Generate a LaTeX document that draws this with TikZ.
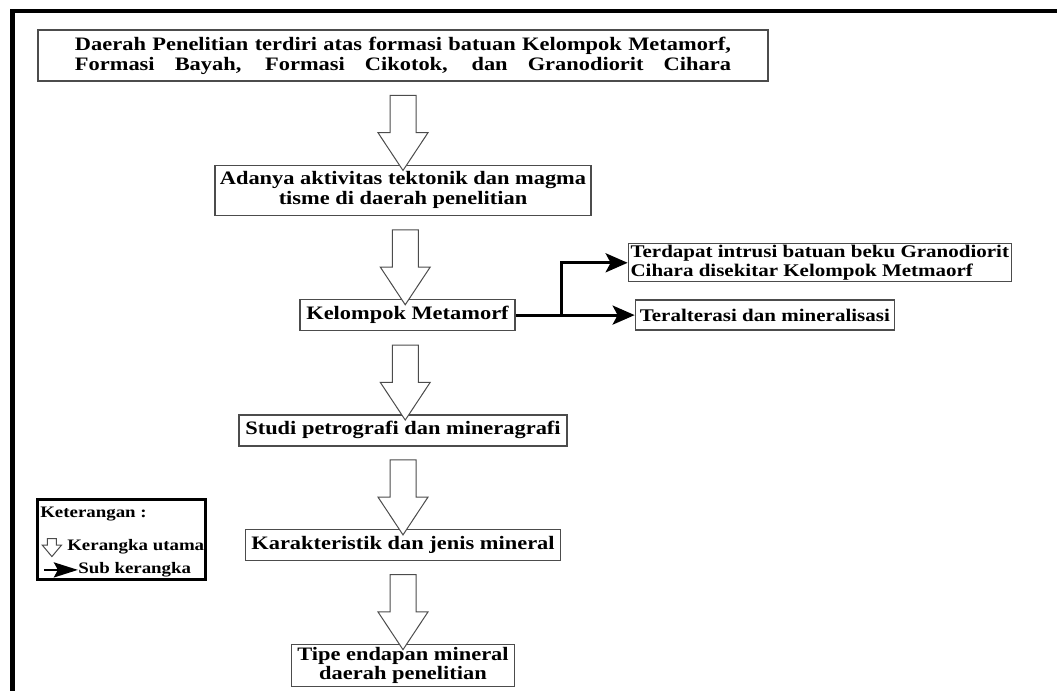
\documentclass[tikz,border=0pt]{standalone}
\usepackage{fontspec}
\setmainfont{Liberation Serif}[FakeStretch=1.18]
\usepackage{tikz}
\usetikzlibrary{shapes.arrows, arrows.meta, positioning, calc}
\tikzstyle{mainbox} = [
  draw=black!70, line width=0.65pt, fill=white,
  inner sep=1pt, align=center,
  font=\bfseries\fontsize{9.5}{10}\selectfont
]
\tikzstyle{subbox} = [
  draw=black!70, line width=0.65pt, fill=white,
  inner sep=0.5pt,
  font=\bfseries\fontsize{8.9}{7.8}\selectfont
]
\tikzstyle{mainarrow} = [
  single arrow, rotate=-90, draw=black!70, line width=0.5pt, fill=white,
  minimum height=37.5pt, inner xsep=0pt, inner ysep=6.25pt,
  single arrow head extend=6pt, single arrow tip angle=67
]
\tikzstyle{legarrow} = [
  single arrow, rotate=-90, draw=black!70, line width=0.5pt, fill=white,
  minimum height=9pt, inner xsep=0pt, inner ysep=2pt,
  single arrow head extend=2.6pt, single arrow tip angle=80
]
\tikzstyle{subarrow} = [
  -{Stealth[length=11pt, width=9.5pt, inset=2.5pt]},
  line width=1.6pt, color=black
]
\tikzstyle{legsubarrow} = [
  -{Stealth[length=12pt, width=7.5pt, inset=2pt]},
  line width=1.3pt, color=black
]
\tikzstyle{legendbox} = [draw=black, line width=1.6pt, fill=white]
\tikzstyle{legtext} = [inner sep=0pt, font=\bfseries\fontsize{8}{9}\selectfont]
\tikzstyle{frameline} = [line width=2.2pt, color=black]

\begin{document}
\begin{tikzpicture}[x=0.5pt, y=-0.5pt]

  \useasboundingbox (0,0) rectangle (1057,691);
  \draw[frameline] (1057,11) -| (12.5,691);

  % main chain
  \node[mainbox, minimum width=365pt, minimum height=25.5pt] (region) at (403,55.5)
    {\makebox[328pt][s]{Daerah Penelitian terdiri atas formasi batuan Kelompok Metamorf,}\\
     \makebox[328pt][s]{Formasi Bayah, Formasi Cikotok, dan Granodiorit Cihara}};
  \node[mainbox, minimum width=188pt, minimum height=25pt, below=41.5pt of region]
    (tectonic) {Adanya aktivitas tektonik dan magma\\tisme di daerah penelitian};
  \node[mainbox, minimum width=107.5pt, minimum height=15.5pt,
        below=41.5pt of tectonic, xshift=2.25pt]
    (metamorf) {Kelompok Metamorf};
  \node[mainbox, minimum width=164pt, minimum height=15.5pt,
        below=41.5pt of metamorf, xshift=-2.25pt]
    (petro) {Studi petrografi dan mineragrafi};
  \node[mainbox, minimum width=157.5pt, minimum height=15.5pt, below=41pt of petro]
    (character) {Karakteristik dan jenis mineral};
  \node[mainbox, minimum width=111.5pt, minimum height=21pt, below=41.5pt of character,
        font=\bfseries\fontsize{9.5}{8.5}\selectfont]
    (deposit) {Tipe endapan mineral\\daerah penelitian};

  \node[mainarrow] (arrowa) at ($(region.south)!0.5!(tectonic.north)$) {};
  \node[mainarrow] (arrowb) at ($(tectonic.south)!0.5!(metamorf.north)$) {};
  \node[mainarrow] (arrowc) at ($(metamorf.south)!0.5!(petro.north)$) {};
  \node[mainarrow] (arrowd) at ($(petro.south)!0.5!(character.north)$) {};
  \node[mainarrow] (arrowe) at ($(character.south)!0.5!(deposit.north)$) {};

  % sub chain
  \node[subbox, minimum width=129.5pt, minimum height=15pt, right=59.5pt of metamorf]
    (altered) {Teralterasi dan mineralisasi};
  \node[subbox, align=left, minimum width=191.5pt, minimum height=19pt,
        above=8.5pt of altered.north west, anchor=south west, xshift=-3.5pt]
    (intrusion) {Terdapat intrusi batuan beku Granodiorit\\Cihara disekitar Kelompok Metmaorf};
  \coordinate[right=23pt of metamorf.east] (split);

  \draw[subarrow] (metamorf) -- (altered);
  \draw[subarrow] (split) |- (intrusion);

  % legend
  \node[legendbox, minimum width=84pt, minimum height=40pt] (legend) at (121.5,539.5) {};
  \node[legtext, below right=4.5pt and 2pt of legend.north west] (ket) {Keterangan :};
  \node[legarrow] (legmain) at ($(legend.north west)+(8pt,-23.5pt)$) {};
  \node[legtext, anchor=west] (legmaintext) at ($(legend.north west)+(15.5pt,-24.5pt)$)
    {Kerangka utama};
  \node[legtext, anchor=west] (legsubtext) at ($(legend.north west)+(21pt,-36pt)$)
    {Sub kerangka};
  \coordinate[left=17pt of legsubtext.west] (legsubtail);
  \draw[legsubarrow] (legsubtail) -- (legsubtext.west);

\end{tikzpicture}
\end{document}
